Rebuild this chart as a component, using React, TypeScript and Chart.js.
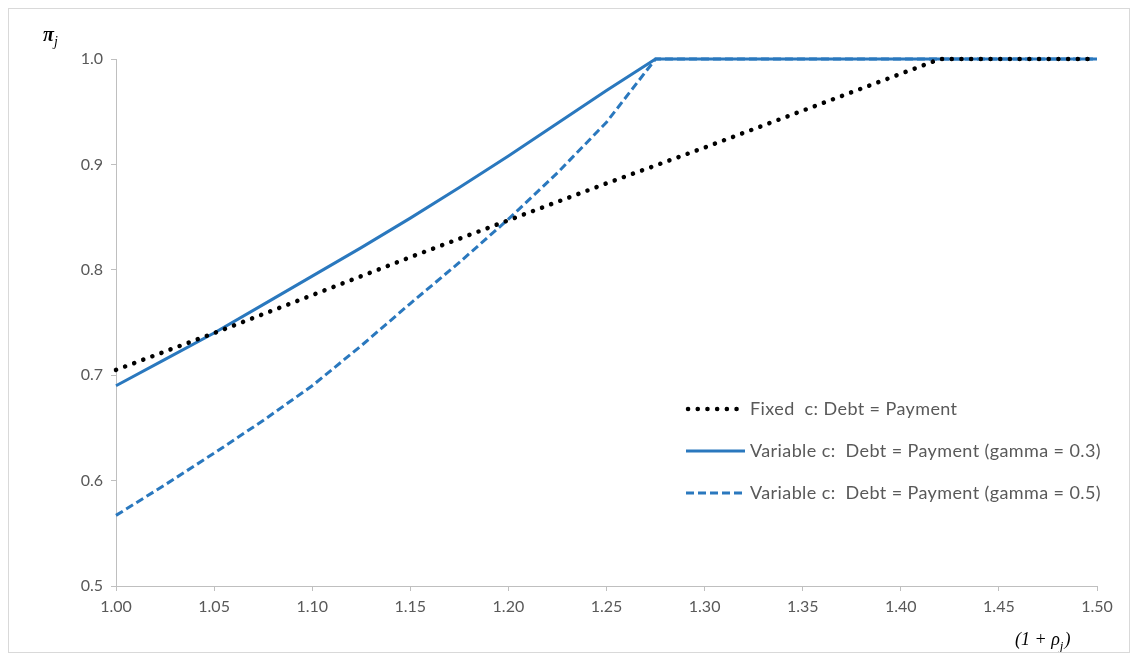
import React, { useEffect, useRef } from "react";
import { Chart, registerables } from "chart.js";

Chart.register(...registerables);

// ---- data ----
const xFixed = [1.0, 1.05, 1.1, 1.15, 1.2, 1.25, 1.3, 1.35, 1.4, 1.42, 1.45, 1.5];
const yFixed = [0.705, 0.740, 0.776, 0.812, 0.847, 0.882, 0.916, 0.951, 0.986, 1.0, 1.0, 1.0];

const xVar = [1.0, 1.025, 1.05, 1.075, 1.1, 1.125, 1.15, 1.175, 1.2, 1.225, 1.25, 1.275, 1.3, 1.35, 1.4, 1.45, 1.5];
const yGamma03 = [0.690, 0.715, 0.740, 0.767, 0.794, 0.821, 0.849, 0.878, 0.908, 0.939, 0.970, 1.0, 1.0, 1.0, 1.0, 1.0, 1.0];
const yGamma05 = [0.567, 0.596, 0.626, 0.657, 0.690, 0.728, 0.768, 0.807, 0.848, 0.892, 0.940, 1.0, 1.0, 1.0, 1.0, 1.0, 1.0];

const seriesLabels = [
  "Fixed  c: Debt = Payment",
  "Variable c:  Debt = Payment (gamma = 0.3)",
  "Variable c:  Debt = Payment (gamma = 0.5)",
];

const xTickMin = 1.0;
const xTickMax = 1.5;
const xTickStep = 0.05;
const yTickMin = 0.5;
const yTickMax = 1.0;
const yTickStep = 0.1;

const BLUE = "#2a78be";
const TEXT = "#595959";
const AXIS = "#bfbfbf";
const FONT = "Lato, 'Open Sans', sans-serif";

const overlayPlugin = {
  id: "overlay",
  afterDraw(chart: any) {
    const ctx = chart.ctx as CanvasRenderingContext2D;
    ctx.save();
    // Y axis title: π_j
    ctx.fillStyle = "#000";
    ctx.textBaseline = "alphabetic";
    ctx.textAlign = "left";
    ctx.font = "italic bold 20px 'Liberation Serif', serif";
    ctx.fillText("π", 34, 32);
    const pw = ctx.measureText("π").width;
    ctx.font = "italic 14px 'Liberation Serif', serif";
    ctx.fillText("j", 34 + pw, 37);

    // X axis title: (1 + ρj)
    let x = 1006;
    const by = 636;
    ctx.font = "italic 18px 'Liberation Serif', serif";
    const part1 = "(1 + ρ";
    ctx.fillText(part1, x, by);
    x += ctx.measureText(part1).width;
    ctx.font = "italic 13px 'Liberation Serif', serif";
    ctx.fillText("j", x, by + 5);
    x += ctx.measureText("j").width + 1;
    ctx.font = "italic 18px 'Liberation Serif', serif";
    ctx.fillText(")", x, by);

    // Legend
    const rows = [400, 442, 484];
    chart.data.datasets.forEach((ds: any, i: number) => {
      const y = rows[i];
      ctx.save();
      ctx.strokeStyle = ds.borderColor;
      ctx.lineWidth = ds.borderWidth;
      ctx.lineCap = ds.borderCapStyle || "butt";
      ctx.setLineDash(ds.borderDash || []);
      ctx.beginPath();
      ctx.moveTo(i === 0 ? 679 : 677, y);
      ctx.lineTo(736, y);
      ctx.stroke();
      ctx.restore();
      ctx.save();
      ctx.fillStyle = TEXT;
      ctx.font = `18px ${FONT}`;
      (ctx as any).letterSpacing = "0.4px";
      ctx.textBaseline = "middle";
      ctx.textAlign = "left";
      ctx.fillText(ds.label, 741, y);
      ctx.restore();
    });
    ctx.restore();
  },
};

export default function App() {
  const canvasRef = useRef<HTMLCanvasElement | null>(null);

  useEffect(() => {
    if (!canvasRef.current) return;
    const chart = new Chart(canvasRef.current, {
      type: "line",
      data: {
        datasets: [
          {
            label: seriesLabels[0],
            data: xFixed.map((x, i) => ({ x, y: yFixed[i] })),
            borderColor: "#000000",
            borderWidth: 4.5,
            borderDash: [0.1, 9.6],
            borderCapStyle: "round",
            pointRadius: 0,
            tension: 0,
            clip: false,
          },
          {
            label: seriesLabels[1],
            data: xVar.map((x, i) => ({ x, y: yGamma03[i] })),
            borderColor: BLUE,
            borderWidth: 3,
            pointRadius: 0,
            tension: 0,
            clip: false,
          },
          {
            label: seriesLabels[2],
            data: xVar.map((x, i) => ({ x, y: yGamma05[i] })),
            borderColor: BLUE,
            borderWidth: 3,
            borderDash: [8, 4],
            pointRadius: 0,
            tension: 0,
            clip: false,
          },
        ],
      } as any,
      options: {
        animation: false,
        responsive: true,
        maintainAspectRatio: false,
        layout: { padding: { top: 50, right: 32, left: 0, bottom: 0 } },
        plugins: {
          legend: { display: false },
          tooltip: { enabled: false },
        },
        scales: {
          x: {
            type: "linear",
            min: xTickMin,
            max: xTickMax,
            afterFit: (s: any) => {
              s.height = 66;
            },
            ticks: {
              stepSize: xTickStep,
              color: TEXT,
              font: { family: FONT, size: 16 },
              padding: 6,
              maxRotation: 0,
              autoSkip: false,
              callback: (v: any) => Number(v).toFixed(2),
            },
            grid: {
              display: true,
              drawOnChartArea: false,
              drawTicks: true,
              tickLength: 5,
              color: AXIS,
            },
            border: { display: true, color: AXIS, width: 1 },
          },
          y: {
            type: "linear",
            min: yTickMin,
            max: yTickMax,
            afterFit: (s: any) => {
              s.width = 107;
            },
            ticks: {
              stepSize: yTickStep,
              color: TEXT,
              font: { family: FONT, size: 16 },
              padding: 8,
              callback: (v: any) => Number(v).toFixed(1),
            },
            grid: {
              display: true,
              drawOnChartArea: false,
              drawTicks: true,
              tickLength: 5,
              color: AXIS,
            },
            border: { display: true, color: AXIS, width: 1 },
          },
        },
      } as any,
      plugins: [overlayPlugin],
    });
    return () => chart.destroy();
  }, []);

  return (
    <div
      style={{
        position: "relative",
        width: 1120,
        height: 643,
        border: "1px solid #d9d9d9",
        background: "#fff",
      }}
    >
      <canvas ref={canvasRef} />
    </div>
  );
}
